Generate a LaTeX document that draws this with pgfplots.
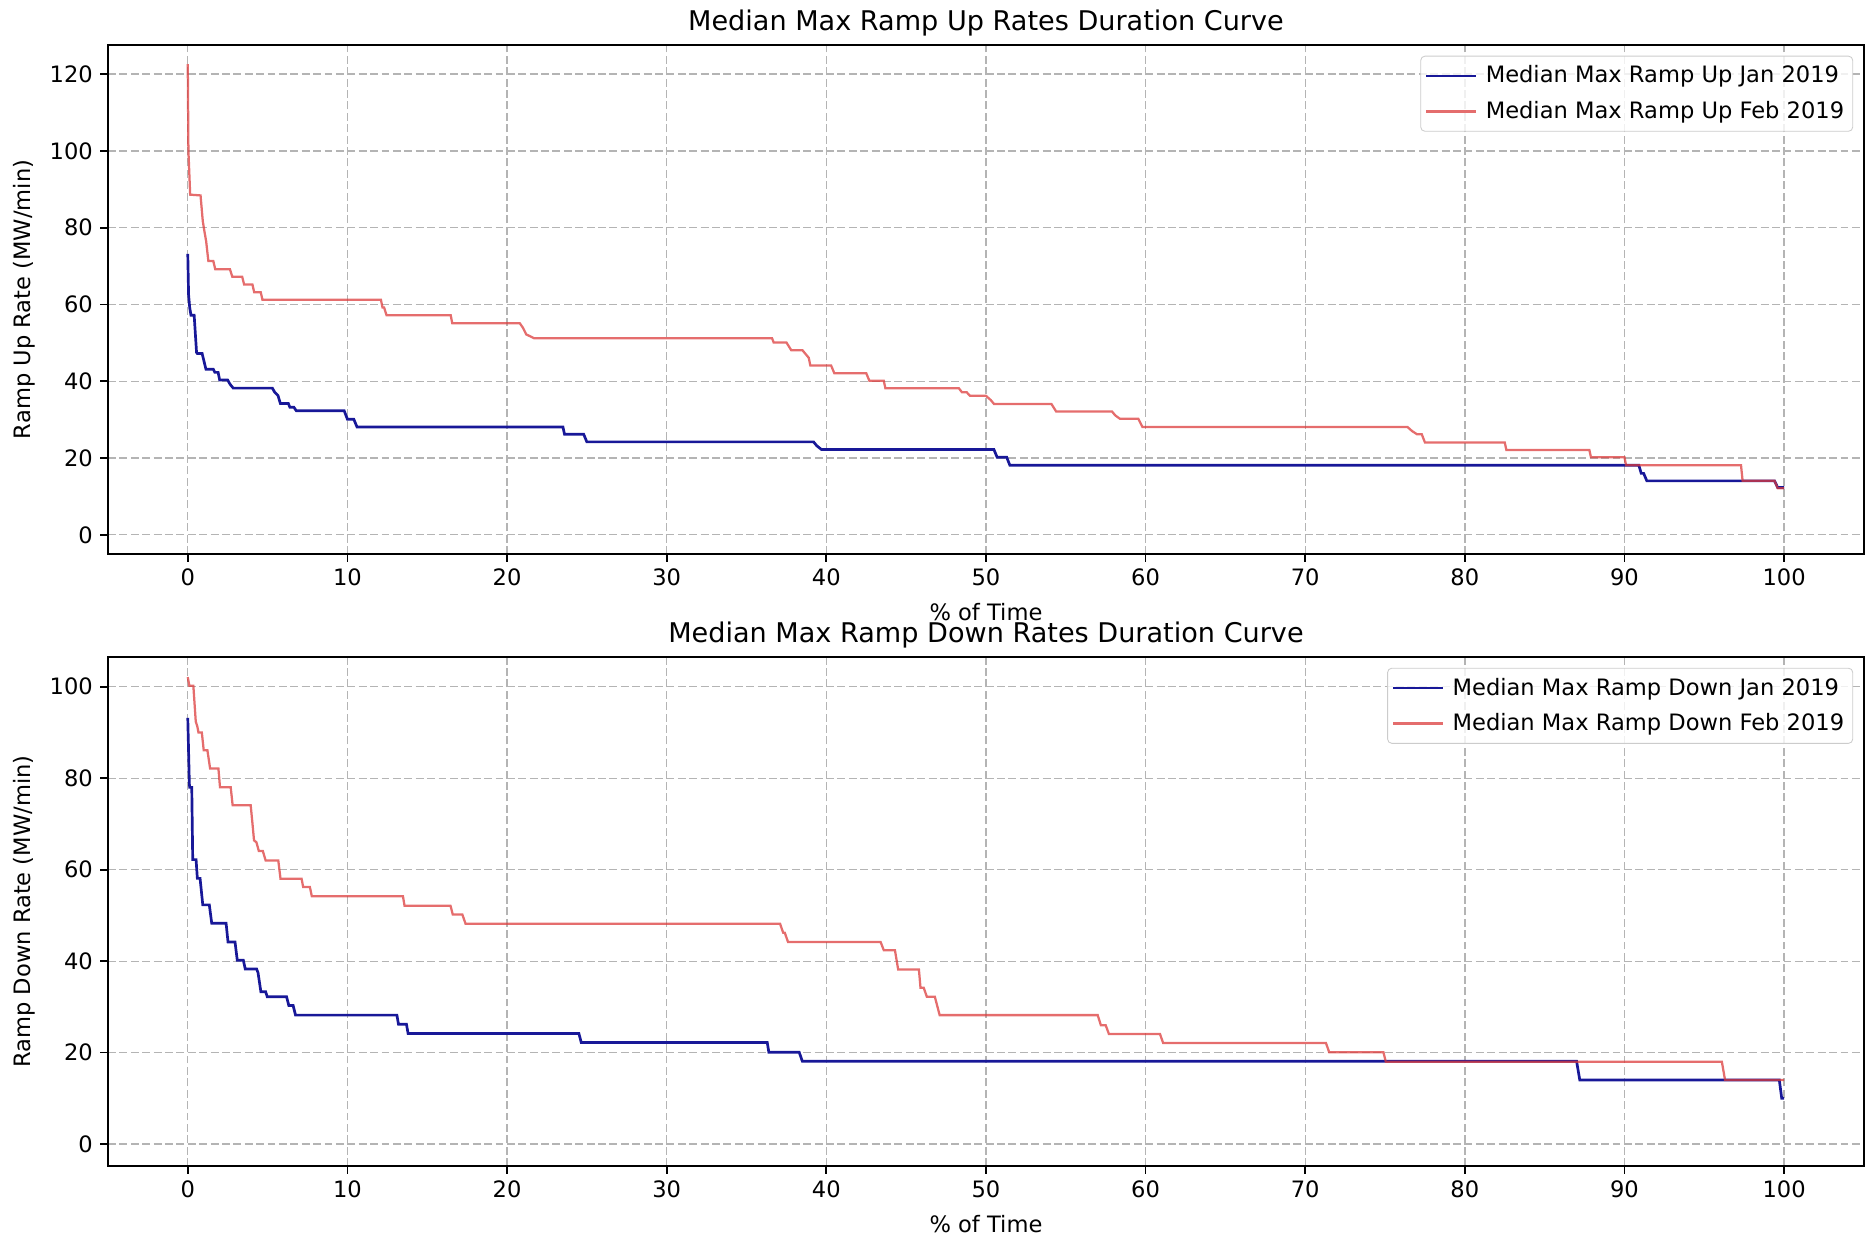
\documentclass[border=0pt]{standalone}
\usepackage{fontspec}
\setmainfont{DejaVu Sans}
\usepackage{pgfplots}
\pgfplotsset{compat=1.18}

\definecolor{janblue}{RGB}{24,24,152}
\definecolor{febred}{RGB}{220,60,60}
\definecolor{gridgray}{RGB}{180,180,180}

\pgfplotsset{
  ramp/.style={
    scale only axis, width=816.5pt, height=236.7pt,
    xmin=-5, xmax=105,
    xtick={0,10,...,100},
    grid=major,
    major grid style={gridgray, line width=0.6pt, dash pattern=on 3.7pt off 1.6pt},
    tick align=outside, tick pos=left, major tick length=3.5pt,
    tick style={black, line width=0.8pt},
    axis line style={line width=0.8pt},
    ticklabel style={font=\fontsize{10.5}{12}\selectfont},
    /pgf/number format/assume math mode=true,
    label style={font=\fontsize{10.5}{12}\selectfont},
    every axis title shift=0pt,
    title style={font=\fontsize{12.6}{14}\selectfont, at={(axis description cs:0.5,1.0287)}, anchor=base},
    xlabel style={at={(axis description cs:0.5,-0.1297)}, anchor=base},
    ylabel style={at={(axis description cs:-0.0478,0.5)}, anchor=center},
    legend style={at={(axis description cs:1,1)}, anchor=north east, xshift=-5pt, yshift=-5pt,
      draw=black!20, rounded corners=2pt, fill=white, fill opacity=0.8, text opacity=1,
      font=\fontsize{10.5}{12}\selectfont, inner xsep=2pt, inner ysep=2.5pt, row sep=3pt},
    legend cell align=left,
    legend image code/.code={\draw[#1] (0pt,0pt) -- (23pt,0pt); \path (25pt,0pt);},
  },
  jan/.style={janblue, line width=1.25pt},
  feb/.style={febred, line width=1.05pt, opacity=0.75},
}

\begin{document}
\begin{tikzpicture}
% ramp up
\begin{axis}[ramp, name=ax1, at={(0,0)}, anchor=south west,
    ymin=-5, ymax=127.6, ytick={0,20,...,120},
    title={Median Max Ramp Up Rates Duration Curve},
    xlabel={\% of Time}, ylabel={Ramp Up Rate (MW/min)}]
  \addplot[jan] coordinates {
    (0,73.2) (0.05,62.6) (0.12,59.2) (0.2,57.2) (0.4,57.2) (0.55,47.5) (0.6,47.2) (0.9,47.2)
    (1.14,43.1) (1.6,43.1) (1.7,42.3) (1.9,42.3) (2.0,40.3) (2.5,40.3) (2.65,39.2) (2.85,38.2)
    (5.3,38.2) (5.45,37.1) (5.65,36.3) (5.8,34.2) (6.3,34.2) (6.4,33.2) (6.65,33.2) (6.8,32.3)
    (9.8,32.3) (10.0,30.1) (10.4,30.1) (10.6,28.1) (23.5,28.1) (23.6,26.2) (24.8,26.2) (25.0,24.2)
    (39.2,24.2) (39.4,23.2) (39.7,22.2) (50.5,22.2) (50.7,20.2) (51.3,20.2) (51.5,18.1) (90.9,18.1)
    (91.05,16.0) (91.2,16.0) (91.4,14.05) (99.4,14.05) (99.6,12.3) (100,12.3)
  };
  \addlegendentry{Median Max Ramp Up Jan 2019}
  \addplot[feb] coordinates {
    (0,122.6) (0.04,100) (0.15,88.6) (0.8,88.4) (0.94,81.7) (1.04,79.1) (1.15,76.5) (1.29,71.3)
    (1.6,71.3) (1.72,69.2) (2.64,69.2) (2.79,67.2) (3.41,67.2) (3.53,65.2) (4.05,65.2) (4.16,63.2)
    (4.57,63.2) (4.68,61.2) (12.1,61.2) (12.2,59.2) (12.3,59.2) (12.45,57.2) (16.47,57.2) (16.57,55.1)
    (20.8,55.1) (21.0,53.9) (21.2,52.2) (21.7,51.2) (36.6,51.2) (36.7,50.1) (37.5,50.1) (37.8,48.1)
    (38.5,48.1) (38.7,47.1) (38.9,46.1) (39.0,44.1) (40.3,44.1) (40.5,42.1) (42.5,42.1) (42.7,40.1)
    (43.6,40.1) (43.7,38.2) (48.3,38.2) (48.5,37.1) (48.8,37.1) (49.0,36.2) (50.0,36.2) (50.3,35.1)
    (50.5,34.1) (54.1,34.1) (54.4,32.1) (57.9,32.1) (58.1,31.1) (58.4,30.2) (59.55,30.2) (59.8,28.1)
    (76.4,28.1) (76.7,27.0) (77.0,26.2) (77.3,26.2) (77.5,24.05) (82.5,24.05) (82.6,22.1) (87.8,22.1)
    (87.9,20.2) (90.0,20.2) (90.1,18.1) (97.3,18.1) (97.4,14.05) (99.4,14.05) (99.6,12.1) (100,12.1)
  };
  \addlegendentry{Median Max Ramp Up Feb 2019}
\end{axis}
% ramp down
\begin{axis}[ramp, name=ax2, at={(0,-47.9pt)}, anchor=north west,
    ymin=-4.8, ymax=106.5, ytick={0,20,...,100},
    title={Median Max Ramp Down Rates Duration Curve},
    xlabel={\% of Time}, ylabel={Ramp Down Rate (MW/min)}]
  \addplot[jan] coordinates {
    (0,93.2) (0.1,78.7) (0.12,78.0) (0.25,78.0) (0.31,62.2) (0.52,62.2) (0.6,58.1) (0.77,58.1)
    (0.94,52.3) (1.35,52.3) (1.5,48.3) (2.4,48.3) (2.52,44.2) (2.96,44.2) (3.1,40.2) (3.48,40.2)
    (3.6,38.3) (4.31,38.3) (4.4,37.5) (4.58,33.3) (4.88,33.3) (4.98,32.2) (6.19,32.2) (6.33,30.3)
    (6.6,30.3) (6.75,28.2) (13.1,28.2) (13.2,26.2) (13.7,26.2) (13.8,24.2) (24.5,24.2) (24.65,22.2)
    (36.3,22.2) (36.4,20.1) (38.3,20.1) (38.5,18.1) (87.0,18.1) (87.2,14.0) (99.7,14.0) (99.85,10.0)
    (100,10.0)
  };
  \addlegendentry{Median Max Ramp Down Jan 2019}
  \addplot[feb] coordinates {
    (0,102.1) (0.1,100.2) (0.35,100.2) (0.5,92.4) (0.6,91.3) (0.67,90.0) (0.88,90.0) (1.0,86.1)
    (1.23,86.1) (1.4,82.1) (1.92,82.1) (2.02,78.0) (2.69,78.0) (2.81,74.1) (3.94,74.1) (4.05,70.2)
    (4.15,66.4) (4.3,66.0) (4.45,64.1) (4.7,64.1) (4.88,62.0) (5.67,62.0) (5.81,58.0) (7.13,58.0)
    (7.23,56.2) (7.65,56.2) (7.77,54.2) (13.48,54.2) (13.58,52.1) (16.46,52.1) (16.6,50.2) (17.2,50.2)
    (17.4,48.2) (37.1,48.2) (37.3,46.2) (37.4,46.2) (37.6,44.2) (43.4,44.2) (43.6,42.4) (44.3,42.4)
    (44.5,38.2) (45.8,38.2) (45.9,34.2) (46.1,34.2) (46.3,32.2) (46.8,32.2) (47.1,28.2) (57.0,28.2)
    (57.2,26.0) (57.5,26.0) (57.7,24.1) (60.9,24.1) (61.1,22.1) (71.3,22.1) (71.5,20.1) (74.9,20.1)
    (75.05,18.0) (96.1,18.0) (96.3,14.0) (100,14.0)
  };
  \addlegendentry{Median Max Ramp Down Feb 2019}
\end{axis}
\pgfresetboundingbox
\path[use as bounding box] ([shift={(-50.2pt,20.9pt)}]ax1.north west) rectangle ([shift={(0.5pt,-33pt)}]ax2.south east);
\end{tikzpicture}
\end{document}
